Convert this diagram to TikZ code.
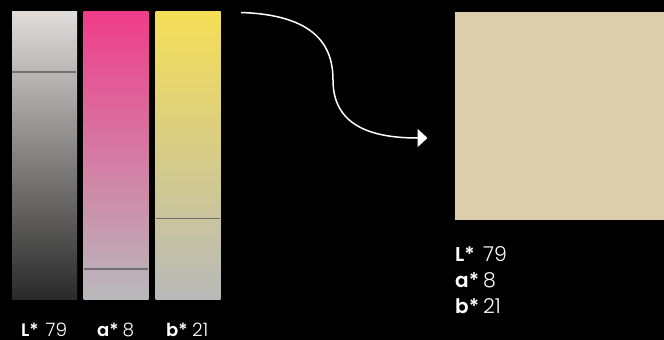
\documentclass[tikz,border=0pt]{standalone}
\usepackage{fontspec}
\setmainfont{Poppins}
\IfFontExistsTF{Poppins Light}{\newfontfamily\lightfont{Poppins Light}}{\newfontfamily\lightfont{Poppins}}
\IfFontExistsTF{Poppins SemiBold}{\newfontfamily\semifont{Poppins SemiBold}}{\newfontfamily\semifont{Poppins}[UprightFeatures={FakeBold=1.5}]}
\usetikzlibrary{arrows.meta}
\definecolor{swatch}{HTML}{DCCDAD}
\definecolor{markgray}{HTML}{707070}
\definecolor{lTop}{HTML}{E0DCDA}
\definecolor{lBot}{HTML}{2A2A2A}
\definecolor{aTop}{HTML}{F03C8A}
\definecolor{aBot}{HTML}{B9B9BB}
\definecolor{bTop}{HTML}{F5DF56}
\definecolor{bBot}{HTML}{B8B9B9}
\tikzset{
  bar/.style={inner sep=0pt, minimum width=65pt, minimum height=288pt, draw=none},
  marker/.style={draw=markgray, line width=1.6pt},
  lbl/.style={anchor=base west, inner sep=0pt, text depth=0pt, text=white, font=\semifont\fontsize{18}{22}\selectfont},
  val/.style={anchor=base west, inner sep=0pt, text depth=0pt, text=white, font=\lightfont\fontsize{18.5}{22}\selectfont},
  rlbl/.style={anchor=base west, inner sep=0pt, text depth=0pt, text=white, font=\semifont\fontsize{20}{24}\selectfont},
  rval/.style={anchor=base west, inner sep=0pt, text depth=0pt, text=white, font=\lightfont\fontsize{20.5}{24}\selectfont},
  flow/.style={draw=white, line width=1.5pt, -{Triangle[length=10pt,width=18pt]}}
}
\begin{document}
\begin{tikzpicture}[x=1pt,y=-1pt]
\useasboundingbox (0,0) rectangle (664,340);
\fill[black] (0,0) rectangle (664,340);
% gradient bars
\node[bar, top color=lTop, bottom color=lBot] (barL) at (44.5,155) {};
\node[bar, top color=aTop, bottom color=aBot] (barA) at (116,155) {};
\node[bar, top color=bTop, bottom color=bBot] (barB) at (188,155) {};
\draw[marker] (12,72) -- (76,72);
\draw[marker] (84,269) -- (148,269);
\draw[marker] (156,218.5) -- (220,218.5);
% bottom labels
\node[lbl] (tL) at (21,336) {L*};
\node[val] (vL) at (45.5,336) {79};
\node[lbl] (tA) at (97,336) {a*};
\node[val] (vA) at (122.5,336) {8};
\node[lbl] (tB) at (166,336) {b*};
\node[val] (vB) at (192,336) {21};
% arrow
\coordinate (start) at (241,12.5);
\coordinate (bend) at (333,80);
\coordinate (tip) at (427.5,138);
\draw[flow] (start) .. controls (320,15) and (333,50) .. (bend)
  .. controls (333,125) and (370,138) .. (tip);
% swatch
\node[inner sep=0pt, minimum width=209pt, minimum height=208pt, fill=swatch, anchor=north west] (sw) at (455,12) {};
% right labels
\node[rlbl] (rL) at (455,261) {L*};
\node[rval] (rvL) at (483,261) {79};
\node[rlbl] (rA) at (455,287) {a*};
\node[rval] (rvA) at (483,287) {8};
\node[rlbl] (rB) at (455,313) {b*};
\node[rval] (rvB) at (483,313) {21};
\end{tikzpicture}
\end{document}
